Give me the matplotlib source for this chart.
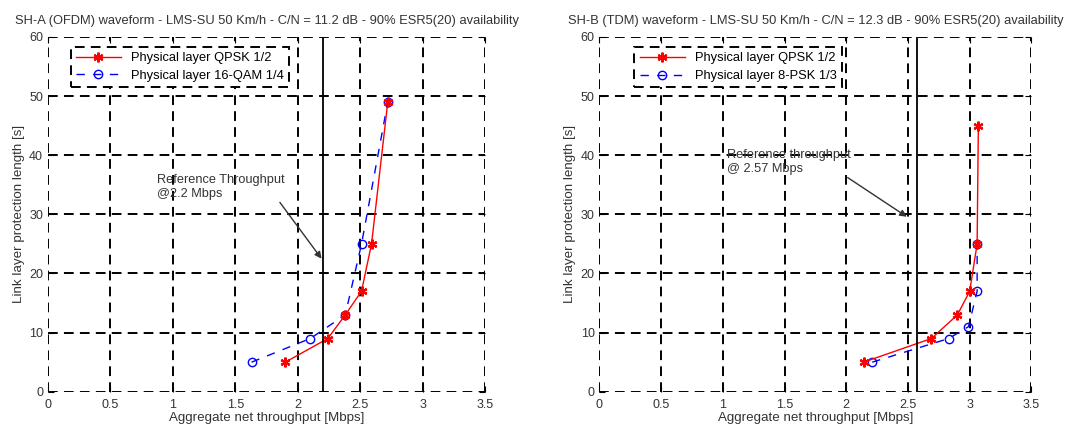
import matplotlib.pyplot as plt

plt.rcParams['font.family'] = ['Liberation Sans', 'DejaVu Sans']

# ---------------------------------------------------
# Data: link layer protection length vs. net throughput
# ---------------------------------------------------
sha_qpsk_x = [1.90, 2.24, 2.38, 2.51, 2.59, 2.72]
sha_qpsk_y = [5, 9, 13, 17, 25, 49]
sha_qam_x = [1.63, 2.10, 2.38, 2.51, 2.72]
sha_qam_y = [5, 9, 13, 25, 49]

shb_qpsk_x = [2.14, 2.69, 2.90, 3.00, 3.06, 3.07]
shb_qpsk_y = [5, 9, 13, 17, 25, 45]
shb_8psk_x = [2.21, 2.83, 2.99, 3.06, 3.06]
shb_8psk_y = [5, 9, 11, 17, 25]

ref_tp_a = 2.2
ref_tp_b = 2.57

titles = ["SH-A (OFDM) waveform - LMS-SU 50 Km/h - C/N = 11.2 dB - 90% ESR5(20) availability",
          "SH-B (TDM) waveform - LMS-SU 50 Km/h - C/N = 12.3 dB - 90% ESR5(20) availability"]

xticks = [0, 0.5, 1, 1.5, 2, 2.5, 3, 3.5]
xticklabels = ['0', '0.5', '1', '1.5', '2', '2.5', '3', '3.5']
yticks = [0, 10, 20, 30, 40, 50, 60]

fig = plt.figure(figsize=(10.88, 4.3), dpi=100)
ax1 = fig.add_axes([0.044, 0.089, 0.402, 0.825])
ax2 = fig.add_axes([0.551, 0.089, 0.397, 0.825])

txt_col = '#333333'
grid_dash = (0, (5, 3.2))
asterisk = (6, 2, 0)


def style_axes(ax, title):
    ax.set_xlim(0, 3.5)
    ax.set_ylim(0, 60)
    ax.set_xticks(xticks)
    ax.set_xticklabels(xticklabels)
    ax.set_yticks(yticks)
    ax.grid(True, color='black', linestyle=grid_dash, linewidth=1.4)
    for s in ax.spines.values():
        s.set_visible(False)
    ax.tick_params(direction='in', length=4, colors='black', labelcolor=txt_col,
                   labelsize=9, top=True, right=True)
    ax.tick_params(axis='x', pad=5)
    ax.set_xlabel("Aggregate net throughput [Mbps]", fontsize=9.6, color=txt_col, labelpad=1)
    ax.set_ylabel("Link layer protection length [s]", fontsize=9.6, color=txt_col, labelpad=3)
    ax.set_title(title, fontsize=9.3, color=txt_col, pad=9)


def add_legend(ax, anchor):
    leg = ax.legend(loc='upper left', bbox_to_anchor=anchor, borderaxespad=0, fontsize=9.3,
                    fancybox=False, framealpha=1, edgecolor='black', handlelength=3.5,
                    borderpad=0.4, labelspacing=0.45)
    leg.get_frame().set_linestyle(grid_dash)
    leg.get_frame().set_linewidth(1.4)
    return leg


# ---- SH-A ----
style_axes(ax1, titles[0])
ax1.plot(sha_qpsk_x, sha_qpsk_y, '-', marker=asterisk, color='red', lw=1.0, ms=7, mew=1.6,
         label='Physical layer QPSK 1/2', zorder=4)
ax1.plot(sha_qam_x, sha_qam_y, '--o', color='blue', lw=1.0, ms=6, mfc='none',
         dashes=(6, 6), label='Physical layer 16-QAM 1/4', zorder=3)
ax1.axvline(ref_tp_a, color='black', lw=1.3, zorder=5)
ax1.annotate("Reference Throughput\n@2.2 Mbps", xy=(2.19, 22.5), xytext=(0.87, 33),
             fontsize=9.2, color=txt_col,
             arrowprops=dict(arrowstyle='-|>', color='#333333', lw=1.0, shrinkA=0, shrinkB=0,
                             mutation_scale=10, relpos=(0.95, 0.0)))
add_legend(ax1, (0.052, 0.972))

# ---- SH-B ----
style_axes(ax2, titles[1])
ax2.plot(shb_qpsk_x, shb_qpsk_y, '-', marker=asterisk, color='red', lw=1.0, ms=7, mew=1.6,
         label='Physical layer QPSK 1/2', zorder=4)
ax2.plot(shb_8psk_x, shb_8psk_y, '--o', color='blue', lw=1.0, ms=6, mfc='none',
         dashes=(6, 6), label='Physical layer 8-PSK 1/3', zorder=3)
ax2.axvline(ref_tp_b, color='black', lw=1.3, zorder=5)
ax2.annotate("Reference throughput\n@ 2.57 Mbps", xy=(2.49, 29.6), xytext=(1.03, 37.2),
             fontsize=9.2, color=txt_col,
             arrowprops=dict(arrowstyle='-|>', color='#333333', lw=1.0, shrinkA=0, shrinkB=0,
                             mutation_scale=10, relpos=(0.85, 0.3)))
add_legend(ax2, (0.081, 0.971))

fig.savefig('out.png', dpi=100)
